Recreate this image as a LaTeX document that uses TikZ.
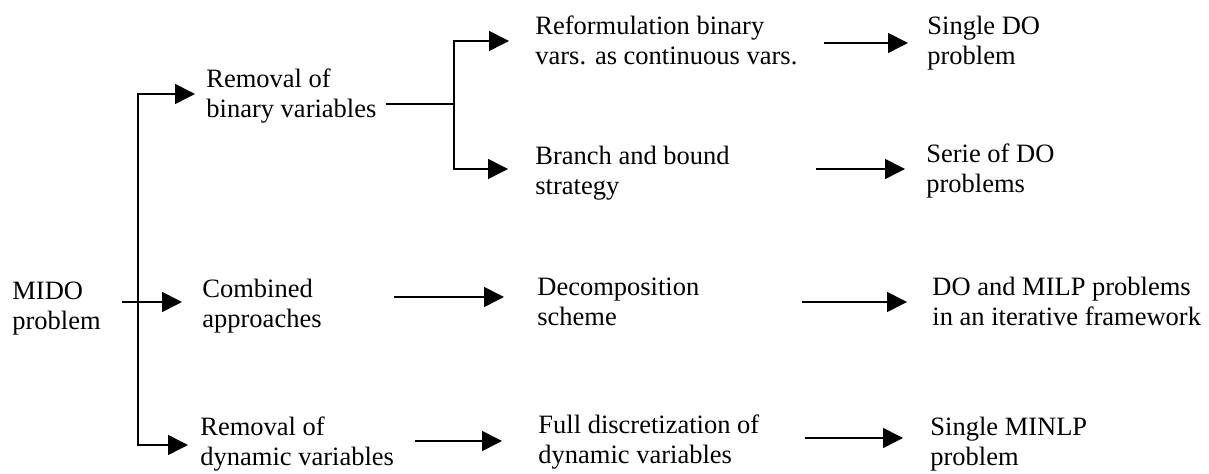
\documentclass[tikz,border=0pt]{standalone}
\usepackage{fontspec}
\setmainfont{Liberation Serif}
\usetikzlibrary{arrows.meta}
% two stacked lines whose baseline is the first line
\newcommand\twoline[2]{\vtop{\hbox{#1}\hbox{#2}}}
\begin{document}
\begin{tikzpicture}[x=0.5pt,y=-0.5pt,
  lbl/.style={inner sep=0pt, anchor=base west,
              font=\fontsize{13.25pt}{15pt}\selectfont},
  conn/.style={line width=0.8pt},
  arr/.style={conn, -{Triangle[length=10pt,width=10pt]}},
  biarr/.style={conn, {Triangle[length=10pt,width=10pt]}-{Triangle[length=10pt,width=10pt]}}]
\useasboundingbox (0,0) rectangle (1209,474);

% labels, placed by the baseline of their first line
\node[lbl] (mido) at (12,300)  {\twoline{MIDO}{problem}};
\node[lbl] (rb)   at (206,88)  {\twoline{Removal of}{binary variables}};
\node[lbl] (ca)   at (202,298) {\twoline{Combined}{approaches}};
\node[lbl] (rd)   at (200,436) {\twoline{Removal of}{dynamic variables}};
\node[lbl] (rf)   at (535,35)  {\twoline{Reformulation binary}{vars. as continuous vars.}};
\node[lbl] (bb)   at (535,165) {\twoline{Branch and bound}{strategy}};
\node[lbl] (dc)   at (537,296) {\twoline{Decomposition}{scheme}};
\node[lbl] (fd)   at (538,434) {\twoline{Full discretization of}{dynamic variables}};
\node[lbl] (sd)   at (927,35)  {\twoline{Single DO}{problem}};
\node[lbl] (sr)   at (926,163) {\twoline{Serie of DO}{problems}};
\node[lbl] (dm)   at (932,296) {\twoline{DO and MILP problems}{in an iterative framework}};
\node[lbl] (sm)   at (930,436) {\twoline{Single MINLP}{problem}};

% branching points
\coordinate (f1) at (138,302);
\coordinate (f2) at (454,104);

% first fork: MIDO problem into the three approaches
\draw[biarr] ([xshift=-5.5pt,yshift=-3pt]rb.base west) -| (f1)
             |- ([xshift=-6pt,yshift=-4.5pt]rd.base west);
\draw[arr] ([xshift=10.5pt]mido.base east |- f1) -- ([xshift=-10pt]ca.base west |- f1);

% second fork: removal of binary variables
\draw[conn] ([xshift=4.5pt]rb.base east |- f2) -- (f2);
\draw[biarr] ([xshift=-13pt,yshift=-3pt]rf.base west) -| (f2)
             |- ([xshift=-13.5pt,yshift=-2pt]bb.base west);

% straight connectors
\draw[arr] ([xshift=36pt,yshift=0.5pt]ca.base east) -- ([xshift=-16.5pt,yshift=-0.5pt]dc.base west);
\draw[arr] ([xshift=10.5pt,yshift=-2.5pt]rd.base east) -- ([xshift=-18pt,yshift=-3.5pt]fd.base west);
\draw[arr] ([xshift=13pt,yshift=-4pt]rf.base east) -- ([xshift=-9.5pt,yshift=-4pt]sd.base west);
\draw[arr] ([xshift=43pt,yshift=-2pt]bb.base east) -- ([xshift=-10.5pt,yshift=-3pt]sr.base west);
\draw[arr] ([xshift=51pt,yshift=-3pt]dc.base east) -- ([xshift=-12.5pt,yshift=-3pt]dm.base west);
\draw[arr] ([xshift=22.5pt,yshift=-2pt]fd.base east) -- ([xshift=-13.5pt,yshift=-1pt]sm.base west);
\end{tikzpicture}
\end{document}
